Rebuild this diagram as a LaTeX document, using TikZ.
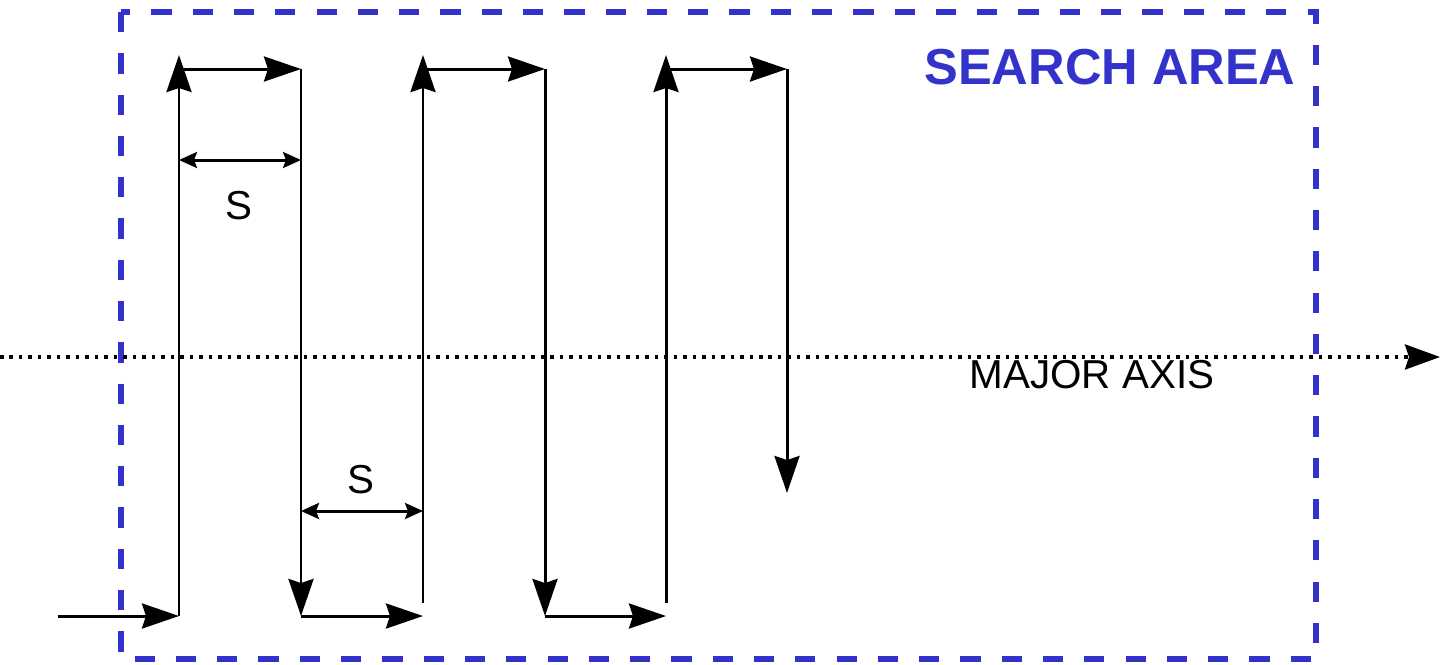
\documentclass[tikz,border=0pt]{standalone}
\usepackage{fontspec}
\setmainfont{Liberation Sans}
\usetikzlibrary{arrows.meta}
\definecolor{areablue}{HTML}{3333CC}

\begin{document}
\begin{tikzpicture}[x=0.02cm,y=-0.02cm,
  track/.style={line width=1.7pt,-{Stealth[length=0.74cm,width=0.5cm,inset=0.08cm]}},
  span/.style={line width=1.7pt,{Stealth[length=0.36cm,width=0.32cm,inset=0.06cm]}-{Stealth[length=0.36cm,width=0.32cm,inset=0.06cm]}},
  area/.style={areablue,line width=3.1pt,dash pattern=on 11.5pt off 12pt},
  axisline/.style={line width=2pt,dash pattern=on 2pt off 3.4pt,-{Stealth[length=0.7cm,width=0.5cm,inset=0.08cm]}},
  lbl/.style={inner sep=0pt,font=\fontsize{23}{25}\selectfont},
  title/.style={inner sep=0pt,text=areablue,font=\bfseries\fontsize{28.8}{30}\selectfont}]

  \useasboundingbox (0,0) rectangle (1450,664);

  % search area
  \draw[area] (121,12) rectangle (1316,659);
  \node[title] (areatitle) at (1110,67) {SEARCH AREA};

  % major axis
  \coordinate (axisL) at (0,357);
  \coordinate (axisR) at (1440,357);
  \draw[axisline] (axisL) -- (axisR);
  \node[lbl] (axistext) at (1092,375) {MAJOR AXIS};

  % legs of the track
  \foreach \i/\x in {1/179,2/301,3/423,4/545,5/666,6/787} {
    \coordinate (hi\i) at (\x,55);
    \coordinate (top\i) at (\x,69);
    \coordinate (low\i) at (\x,603);
    \coordinate (bot\i) at (\x,616);
  }
  \coordinate (start) at (58,616);
  \coordinate (stop) at (787,493);

  \draw[track] (start) -- (bot1);
  \draw[track] (bot1) -- (hi1);
  \draw[track] (top1) -- (top2);
  \draw[track] (top2) -- (bot2);
  \draw[track] (bot2) -- (bot3);
  \draw[track] (low3) -- (hi3);
  \draw[track] (top3) -- (top4);
  \draw[track] (top4) -- (bot4);
  \draw[track] (bot4) -- (bot5);
  \draw[track] (low5) -- (hi5);
  \draw[track] (top5) -- (top6);
  \draw[track] (top6) -- (stop);

  % track spacing
  \coordinate (gapA) at (0,160);
  \coordinate (gapB) at (0,511);
  \draw[span] (top1 |- gapA) -- (top2 |- gapA);
  \node[lbl] (spacingA) at (239,206) {S};
  \draw[span] (top2 |- gapB) -- (top3 |- gapB);
  \node[lbl] (spacingB) at (361,480) {S};

\end{tikzpicture}
\end{document}
